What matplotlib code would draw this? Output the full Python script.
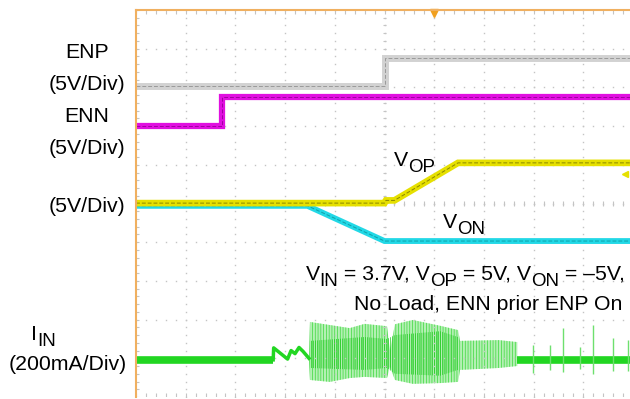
import numpy as np
import matplotlib.pyplot as plt

plt.rcParams['font.family'] = ['Liberation Sans', 'DejaVu Sans']
plt.rcParams['hatch.linewidth'] = 0.5

# traces, in scope divisions (x: 0-10 time div, y: 0-10 vertical div)
enp_t = [0, 5.0, 5.0, 10]
enp_v = [8.04, 8.04, 8.76, 8.76]
enn_t = [0, 1.73, 1.73, 10]
enn_v = [7.0, 7.0, 7.75, 7.75]
vop_t = [0, 5.0, 5.03, 5.2, 6.48, 10]
vop_v = [5.01, 5.01, 5.08, 5.08, 6.05, 6.05]
von_t = [0, 3.45, 5.0, 10]
von_v = [4.94, 4.94, 4.03, 4.03]

# input current
iin_flat_t = [0, 2.76]
iin_flat_v = [0.96, 0.96]
iin_pre_t = [2.76, 2.77, 3.05, 3.12, 3.2, 3.28, 3.36, 3.48]
iin_pre_v = [0.96, 1.27, 0.98, 1.2, 1.12, 1.28, 1.18, 1.0]
burst_t = [3.48, 3.5, 3.9, 4.3, 4.6, 5.05, 5.11, 5.21, 5.57, 6.12, 6.48, 6.52, 7.3, 7.67]
burst_hi = [1.0, 1.94, 1.86, 1.78, 1.89, 1.83, 1.2, 1.88, 1.99, 1.84, 1.73, 1.45, 1.47, 1.42]
burst_lo = [0.95, 0.44, 0.39, 0.49, 0.52, 0.49, 0.78, 0.44, 0.34, 0.36, 0.39, 0.70, 0.75, 0.80]
core_t = [3.5, 4.6, 5.05, 5.21, 6.12, 6.48]
core_hi = [1.45, 1.55, 1.5, 1.6, 1.7, 1.55]
core_lo = [0.75, 0.7, 0.75, 0.6, 0.55, 0.7]
iin_post_t = [7.67, 10]
iin_post_v = [0.96, 0.96]
spike_t = [7.99, 8.33, 8.59, 8.93, 9.20, 9.60, 9.90]
spike_hi = [1.34, 1.34, 1.78, 1.29, 1.86, 1.52, 1.47]
spike_lo = [0.62, 0.70, 0.65, 0.72, 0.60, 0.66, 0.68]

W, H = 630, 399
fig = plt.figure(figsize=(W / 100, H / 100), dpi=100)
ax = fig.add_axes([136 / W, 2 / H, 497 / W, 387 / H])
ax.set_xlim(0, 10)
ax.set_ylim(0, 10)
ax.set_xticks([])
ax.set_yticks([])
for s in ['right', 'bottom']:
    ax.spines[s].set_visible(False)
for s in ['left', 'top']:
    ax.spines[s].set_color('#f0b060')
    ax.spines[s].set_linewidth(1.5)

# graticule
gc = '#c4c4c4'
minor = np.arange(0, 10.01, 0.2)
for i in range(1, 10):
    ax.plot([i] * len(minor), minor, ls='none', marker='s', ms=1, color=gc, mew=0)
    ax.plot(minor, [i] * len(minor), ls='none', marker='s', ms=1, color=gc, mew=0)
ax.vlines(minor, 4.93, 5.07, color=gc, lw=0.8)
ax.hlines(minor, 4.96, 5.04, color=gc, lw=0.8)
ax.vlines(minor, 9.9, 10, color=gc, lw=0.8)
ax.vlines(minor, 0, 0.1, color=gc, lw=0.8)
ax.hlines(minor, 0, 0.06, color=gc, lw=0.8)

def trace(t, v, band, core, lw):
    ax.plot(t, v, color=band, lw=lw, solid_capstyle='butt', solid_joinstyle='miter')
    ax.plot(t, v, color=core, lw=0.7, ls=(0, (4, 2)))

trace(enp_t, enp_v, '#d2d2d2', '#9a9a9a', 5)
trace(enn_t, enn_v, '#e010e0', '#a000a0', 4.5)
trace(von_t, von_v, '#22d8e6', '#10a0a8', 4.2)
trace(vop_t, vop_v, '#e6e000', '#8a8600', 4.8)

green = '#22d622'
ax.plot(iin_flat_t, iin_flat_v, color=green, lw=5.5, solid_capstyle='butt')
ax.plot(iin_pre_t, iin_pre_v, color=green, lw=2.5)
ax.fill_between(burst_t, burst_lo, burst_hi, facecolor='#b4f0b4', edgecolor='#3cd83c',
                hatch='||||||', lw=0)
ax.fill_between(core_t, core_lo, core_hi, facecolor='none', edgecolor='#1ec81e',
                hatch='||||||||', lw=0)
ax.plot(iin_post_t, iin_post_v, color=green, lw=5.5, solid_capstyle='butt')
ax.vlines(spike_t, spike_lo, spike_hi, color='#6ee06e', lw=1)

# channel markers
ax.plot([6.0], [9.93], marker='v', ms=6, color='#f0a020', clip_on=False)
ax.plot([9.83], [5.75], marker='<', ms=4, color='#e6e000')

fs = 15.3
sub_fs = 13.5
renderer = fig.canvas.get_renderer()


def px(x, y):
    return x / W, 1 - y / H


def rich(x, y, parts, ha='left'):
    # parts: list of (text, is_subscript); x, y in pixels, y = baseline
    widths = []
    for s, sub in parts:
        t = fig.text(0, 0, s, fontsize=sub_fs if sub else fs)
        widths.append(t.get_window_extent(renderer).width)
        t.remove()
    total = sum(widths)
    cx = x - total if ha == 'right' else x
    for (s, sub), w in zip(parts, widths):
        yy = y + 6 if sub else y
        fig.text(*px(cx, yy), s, fontsize=sub_fs if sub else fs, va='baseline')
        cx += w


fig.text(*px(87, 53), 'ENP', ha='center', va='center', fontsize=fs)
fig.text(*px(87, 85), '(5V/Div)', ha='center', va='center', fontsize=fs)
fig.text(*px(87, 117), 'ENN', ha='center', va='center', fontsize=fs)
fig.text(*px(87, 149), '(5V/Div)', ha='center', va='center', fontsize=fs)
fig.text(*px(87, 206), '(5V/Div)', ha='center', va='center', fontsize=fs)
rich(31, 340, [('I', False), ('IN', True)])
fig.text(*px(68, 364), '(200mA/Div)', ha='center', va='center', fontsize=fs)

rich(394, 166, [('V', False), ('OP', True)])
rich(443, 228, [('V', False), ('ON', True)])
rich(625, 280, [('V', False), ('IN', True), (' = 3.7V, V', False), ('OP', True),
                (' = 5V, V', False), ('ON', True), (' = –5V,', False)], ha='right')
fig.text(*px(622, 310), 'No Load, ENN prior ENP On', ha='right', va='baseline', fontsize=fs)

fig.savefig('out.png', dpi=100)
